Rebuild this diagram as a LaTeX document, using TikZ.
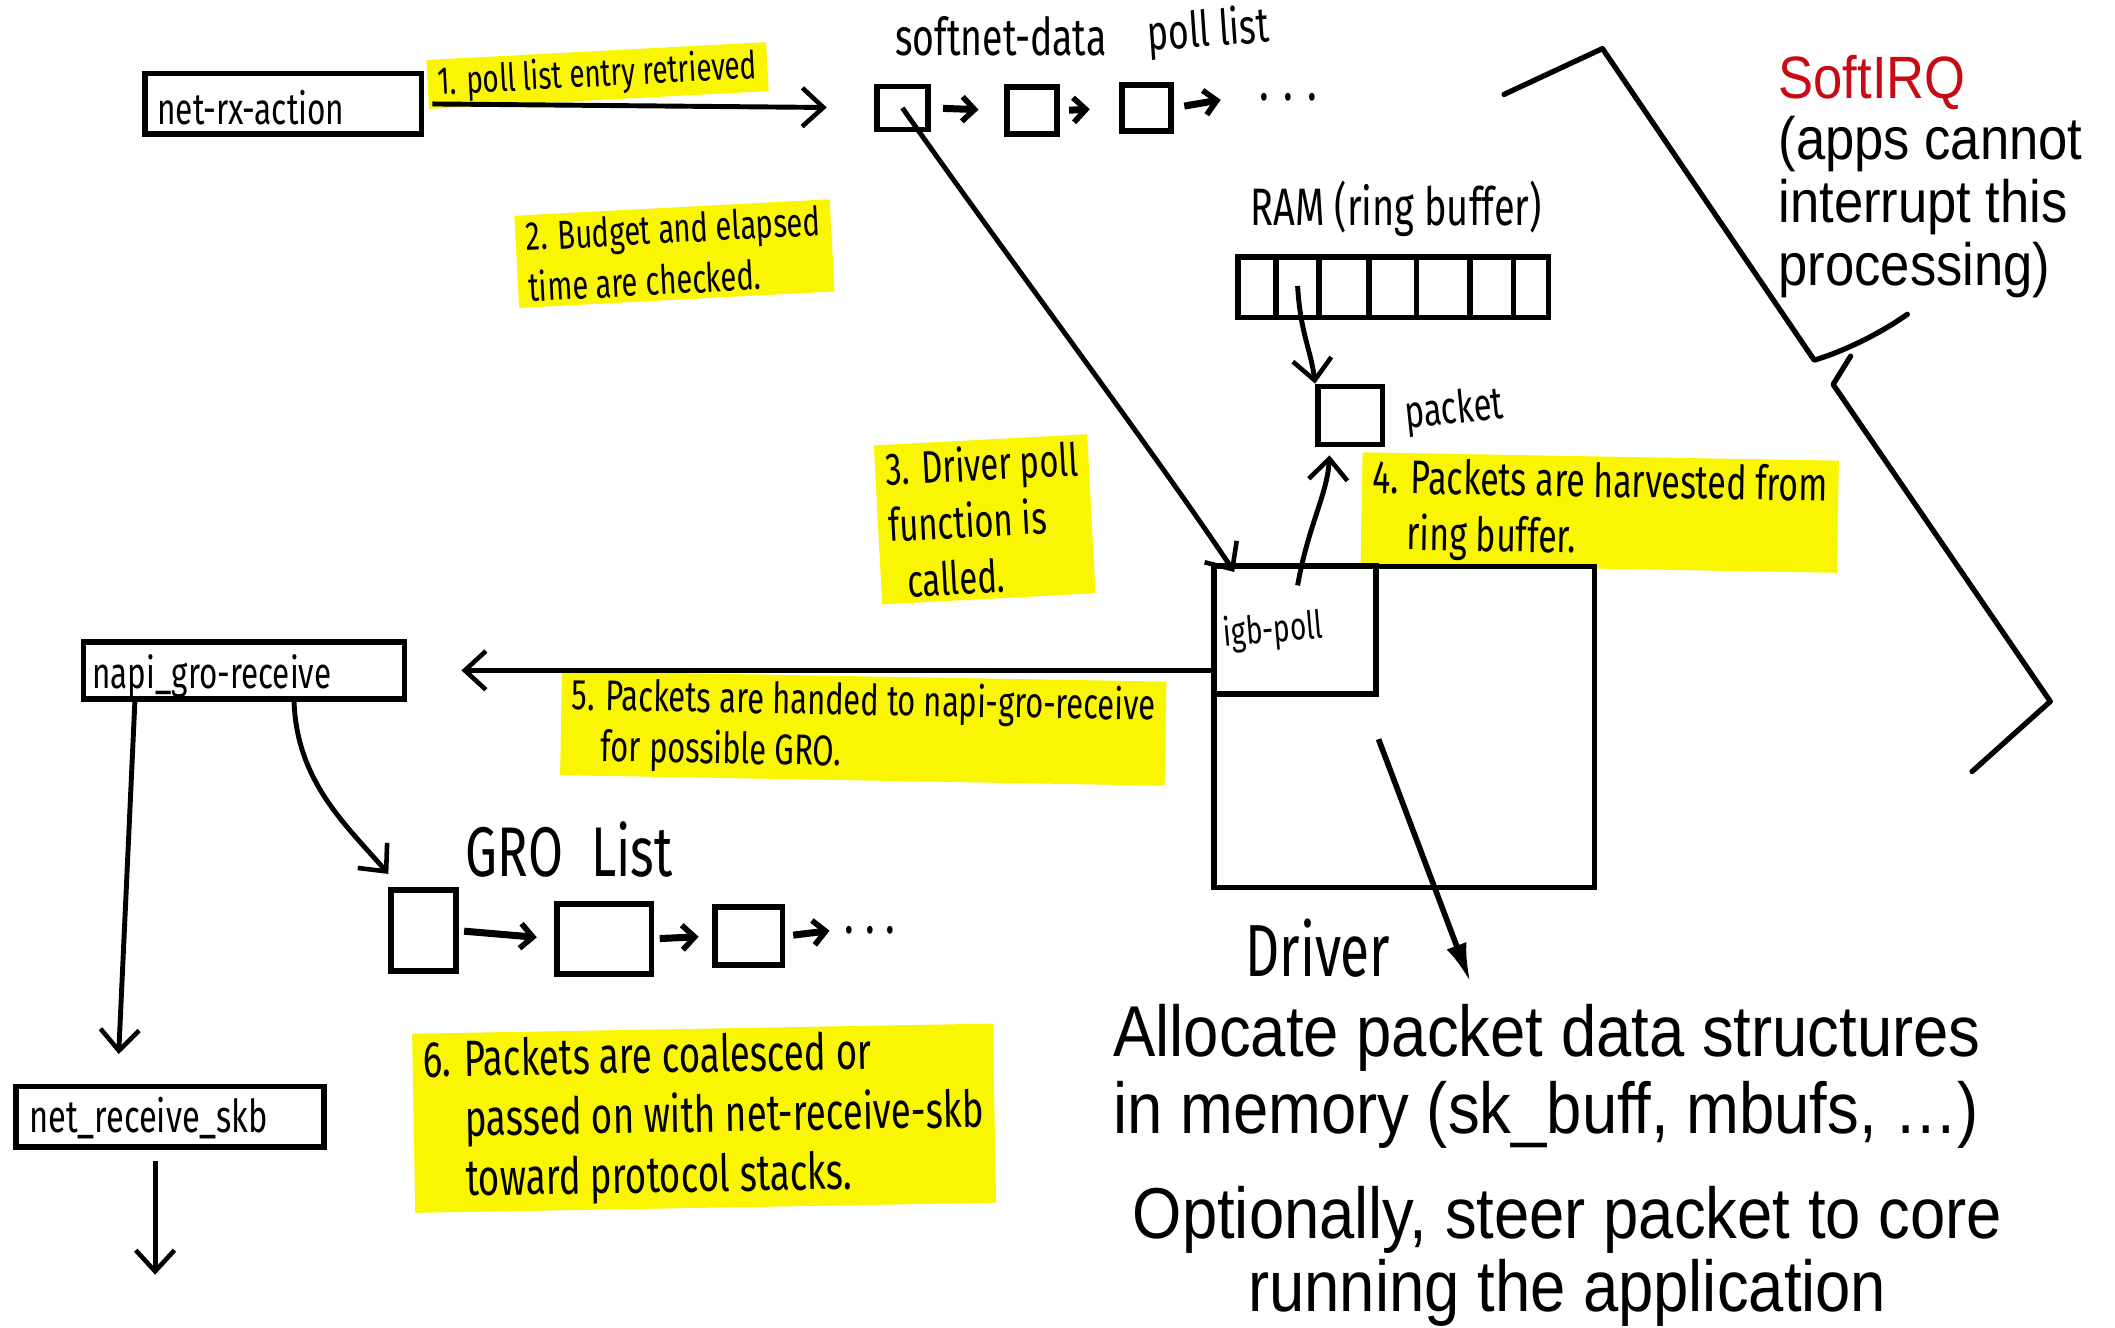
\documentclass[tikz,border=0pt]{standalone}
\usepackage{fontspec}
\setmainfont{Liberation Sans}
\newfontfamily\printfont[FakeStretch=0.88]{Liberation Sans}
\newfontfamily\handfont[FakeStretch=0.72]{Fira Sans}
\usetikzlibrary{arrows.meta,calc}
\newcommand\unitpx{0.01349cm}
\newcommand\hf[2]{\handfont\fontsize{#1}{#2}\selectfont}
\newcommand\pf[2]{\printfont\fontsize{#1}{#2}\selectfont}
\definecolor{hl}{RGB}{250,245,0}
\definecolor{sirq}{RGB}{200,10,20}
\begin{document}
\begin{tikzpicture}[x=0.01349cm,y=-0.01349cm,
  bx/.style 2 args={draw,line width=1.6pt,inner sep=0pt,
    minimum width=#1*\unitpx,minimum height=#2*\unitpx},
  hand/.style={inner sep=0pt,text=black},
  hlbox/.style={fill=hl,inner xsep=3pt,inner ysep=1.5pt,align=left,text=black},
  conn/.style={line width=1.4pt,-{Straight Barb[length=6pt,width=11pt,line width=1.3pt]}},
  sconn/.style={line width=2pt,-{Straight Barb[length=3.5pt,width=7pt,line width=1.6pt]}},
  ptext/.style={inner sep=0pt,anchor=base west,text=black,font=\pf{20.5}{22}},
  stext/.style={inner sep=0pt,anchor=base west,text=black,font=\pf{17}{19}}]
\useasboundingbox (0,0) rectangle (1568,984);
\fill[white] (0,0) rectangle (1568,984);

% ---------- highlighted labels ----------
\node[hlbox,rotate=3,font=\hf{11}{12}] (l1) at (443,56) {1. poll list entry retrieved};
\node[hlbox,rotate=3,font=\hf{11.5}{14.5}] (l2) at (500,188) {2. Budget and elapsed\\time are checked.};
\node[hlbox,rotate=3,font=\hf{13}{16}] (l3) at (730,385) {3. Driver poll\\function is\\\hspace*{0.35em}called.};
\node[hlbox,rotate=-1,font=\hf{13.4}{16}] (l4) at (1186,380) {4. Packets are harvested from\\\hspace*{0.75em}ring buffer.};
\node[hlbox,rotate=-1,font=\hf{12.2}{14.5}] (l5) at (640,540) {5. Packets are handed to napi-gro-receive\\\hspace*{0.7em}for possible GRO.};
\node[hlbox,rotate=1,font=\hf{14.5}{17}] (l6) at (522,829) {6. Packets are coalesced or\\\hspace*{0.8em}passed on with net-receive-skb\\\hspace*{0.8em}toward protocol stacks.};

% ---------- net_rx_action ----------
\node[bx={205}{45}] (nra) at (210,77) {};
\node[hand,font=\hf{12.5}{15}] (nratxt) at (186,80) {net-rx-action};

% ---------- softnet_data poll list ----------
\node[hand,font=\hf{14.8}{17}] (sdlbl) at (742,27) {softnet-data};
\node[hand,font=\hf{14}{16},rotate=4] (pllbl) at (896,24) {poll list};
\node[bx={38}{32}] (sd1) at (669,80) {};
\node[bx={37}{35}] (sd2) at (765,82) {};
\node[bx={36}{34}] (sd3) at (850,80) {};
\coordinate (sdnext) at (905,74);
\node[hand,font=\hf{16}{18}] (dots1) at (955,72) {.\hspace{4pt}.\hspace{4pt}.};
\draw[conn,shorten <=6*\unitpx,shorten >=35*\unitpx] (nra.east) -- (sd1.west);
\draw[sconn,shorten <=9*\unitpx,shorten >=19*\unitpx] (sd1.east) -- (sd2.west);
\draw[sconn,shorten <=7*\unitpx,shorten >=22*\unitpx] (sd2.east) -- (sd3.west);
\draw[sconn,shorten <=8*\unitpx] (sd3.east) -- (sdnext);

% ---------- RAM ring buffer ----------
\node[hand,font=\hf{15}{17}] (ramlbl) at (1035,155) {RAM (ring buffer)};
\node[bx={230}{45}] (rb) at (1033,213) {};
\foreach \xx in {946,978,1015,1050,1090,1122}
  \draw[line width=1.6pt] (\xx,191) -- (\xx,235);
\node[bx={48}{43}] (pk) at (1001,308) {};
\node[hand,font=\hf{13}{15},rotate=6] (pklbl) at (1078,305) {packet};
\coordinate (rbc) at (962,212);
\draw[conn] (rbc) .. controls +(2,35) and +(-3,-25) .. (pk.north west);

% ---------- Driver ----------
\node[bx={282}{238}] (drv) at (1041,539) {};
\node[bx={120}{95}] (igb) at (960,467) {};
\node[hand,font=\hf{11}{12},rotate=5] (igbtxt) at (944,468) {igb-poll};
\node[hand,font=\hf{21}{23}] (drvlbl) at (977,703) {Driver};
\coordinate (igbc) at (962,434);
\coordinate (igbtip) at (915,424);
\draw[conn] (sd1.center) .. controls +(70,100) and +(-60,-90) .. (igbtip);
\draw[conn,shorten >=6*\unitpx] (igbc) .. controls +(8,-45) and +(-2,35) .. ([xshift=-15*\unitpx]pk.south);

% ---------- napi_gro_receive ----------
\node[bx={238}{42}] (napi) at (181,497) {};
\node[hand,font=\hf{12.4}{15}] (napitxt) at (157,501) {napi\_gro-receive};
\draw[conn,shorten >=40*\unitpx] (igb.west |- napi.east) -- (napi.east);

% ---------- GRO list ----------
\node[hand,font=\hf{20}{22}] (grolbl) at (422,630) {GRO\hspace{0.4em}List};
\node[bx={48}{60}] (gro1) at (314,690) {};
\node[bx={70}{52}] (gro2) at (448,696) {};
\node[bx={50}{43}] (gro3) at (555,694) {};
\coordinate (gronext) at (615,690);
\node[hand,font=\hf{16}{18}] (dots2) at (645,690) {.\hspace{3pt}.\hspace{3pt}.};
\draw[sconn,shorten <=4*\unitpx,shorten >=13*\unitpx] (gro1.east) -- (gro2.west);
\draw[sconn,shorten <=4*\unitpx,shorten >=10*\unitpx] (gro2.east) -- (gro3.west);
\draw[sconn,shorten <=6*\unitpx] (gro3.east) -- (gronext);
\draw[conn] ([xshift=37*\unitpx]napi.south) .. controls +(2,60) and +(-30,-35) .. ([yshift=10*\unitpx]gro1.north west);

% ---------- net_receive_skb ----------
\node[bx={228}{45}] (nrs) at (126,828) {};
\node[hand,font=\hf{12.9}{15}] (nrstxt) at (110,829) {net\_receive\_skb};
\draw[conn] ([xshift=-81*\unitpx]napi.south) -- ([xshift=-38*\unitpx,yshift=22*\unitpx]nrs.north);
\coordinate (nrsout) at (115,945);
\draw[conn] ([xshift=-11*\unitpx,yshift=-8*\unitpx]nrs.south) -- (nrsout);

% ---------- SoftIRQ brace ----------
\draw[line width=1.5pt,line join=round,line cap=round]
  (1115,70) -- (1188,36) -- (1345,267) .. controls (1362,262) and (1390,250) .. (1414,233);
\draw[line width=1.5pt,line join=round,line cap=round]
  (1372,264) -- (1359,285) -- (1520,520) -- (1462,572);
\node[stext,text=sirq] (sirq1) at (1318,73) {SoftIRQ};
\node[stext] (sirq2) at (1318,118) {(apps cannot};
\node[stext] (sirq3) at (1318,165) {interrupt this};
\node[stext] (sirq4) at (1318,212) {processing)};

% ---------- allocation text ----------
\coordinate (als) at (1022,548);
\coordinate (alt) at (1090,728);
\draw[line width=1.6pt,-{Latex[length=11pt,width=6pt]}] (als) -- (alt);
\node[ptext] (al1) at (825,783) {Allocate packet data structures};
\node[ptext] (al2) at (825,840) {in memory (sk\_buff, mbufs, …)};
\node[ptext,anchor=base] (op1) at (1162,918) {Optionally, steer packet to core};
\node[ptext,anchor=base] (op2) at (1162,972) {running the application};
\end{tikzpicture}
\end{document}
